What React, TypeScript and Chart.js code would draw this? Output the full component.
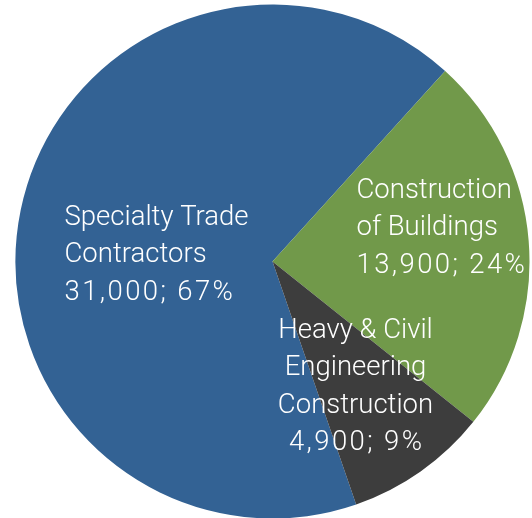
import React, { useEffect, useRef } from "react";
import { Chart, registerables } from "chart.js";

Chart.register(...registerables);

const categories = ["Specialty Trade Contractors", "Construction of Buildings", "Heavy & Civil Engineering Construction"];
const employment = [31000, 13900, 4900];
const percents = [67, 24, 9];
const colors = ["#336294", "#71994a", "#3d3d3d"];
const labelLines = [
  ["Specialty Trade", "Contractors", "31,000; 67%"],
  ["Construction", "of Buildings", "13,900; 24%"],
  ["Heavy & Civil", "Engineering", "Construction", "4,900; 9%"],
];

const FONT = "300 27.5px Roboto, 'Noto Sans', sans-serif";

const labelPlugin = {
  id: "sliceLabels",
  afterDatasetsDraw(chart: any) {
    const ctx = chart.ctx as any;
    const meta = chart.getDatasetMeta(0);
    const arcs = meta.data;
    const cx = arcs[0].x;
    const cy = arcs[0].y;
    ctx.save();
    ctx.fillStyle = "#ffffff";
    ctx.font = FONT;
    ctx.textBaseline = "alphabetic";
    const lh = 37.5;
    const draw = (t: string, x: number, y: number, isNum: boolean, center: boolean) => {
      ctx.letterSpacing = isNum ? "2.4px" : "0px";
      ctx.textAlign = "left";
      let w = ctx.measureText(t).width;
      if (isNum) w -= 2.4;
      ctx.fillText(t, center ? x - w / 2 : x, y);
    };
    labelLines[0].forEach((t, i) => draw(t, cx - 208, cy - 37 + i * lh, i === 2, false));
    labelLines[1].forEach((t, i) => draw(t, cx + 84, cy - 64 + i * lh, i === 2, false));
    labelLines[2].forEach((t, i) => draw(t, cx + 83, cy + 76 + i * lh, i === 3, true));
    ctx.restore();
  },
};

export default function App() {
  const ref = useRef<HTMLCanvasElement>(null);
  useEffect(() => {
    if (!ref.current) return;
    const chart = new Chart(ref.current, {
      type: "pie",
      data: {
        labels: categories,
        datasets: [
          {
            data: percents,
            backgroundColor: colors,
            borderWidth: 0,
          },
        ],
      },
      options: {
        responsive: false,
        animation: false,
        rotation: 161,
        layout: { padding: { left: 15.5, right: 2.5, top: 4.5, bottom: 3.5 } },
        plugins: {
          legend: { display: false },
          tooltip: { enabled: false },
        },
      },
      plugins: [labelPlugin],
    });
    return () => chart.destroy();
  }, []);
  return (
    <div style={{ position: "fixed", left: 0, top: 0, width: 532, height: 518, overflow: "hidden", background: "#fff" }}>
      <canvas ref={ref} width={532} height={522} style={{ display: "block" }} data-employment={employment.join(",")} />
    </div>
  );
}
